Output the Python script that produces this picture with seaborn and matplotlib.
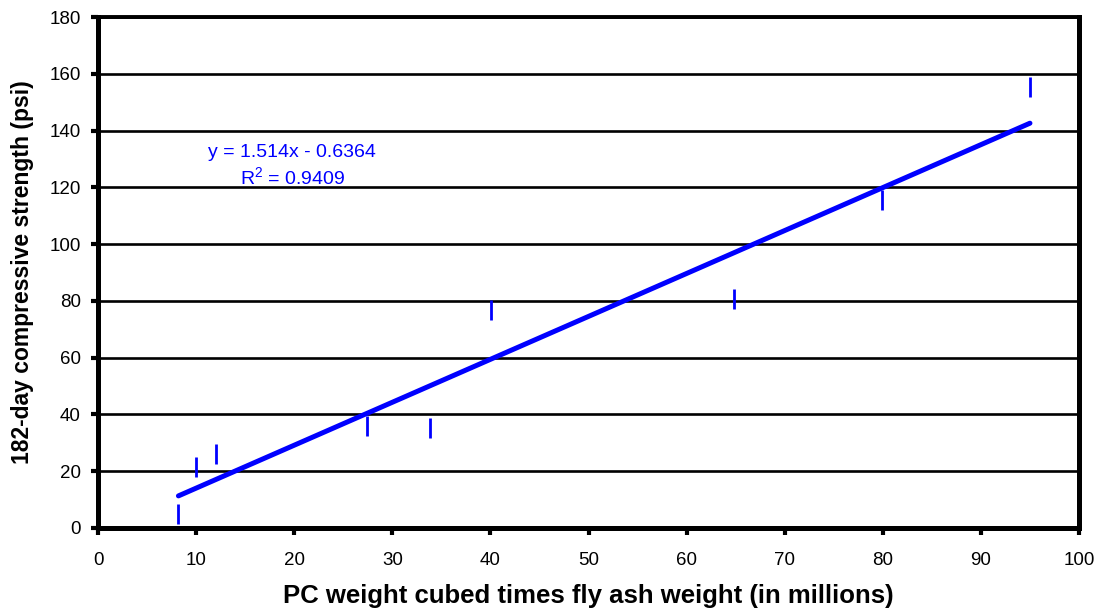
import numpy as np
import pandas as pd
import matplotlib
matplotlib.use("Agg")
import matplotlib.pyplot as plt
import seaborn as sns

# Data
x_vals = [8.2, 10.0, 12.0, 27.4, 33.8, 40.1, 64.8, 79.9, 95.0]
y_vals = [4.9, 21.4, 26.0, 35.9, 35.3, 76.9, 80.5, 115.4, 155.3]
x_ticks = list(range(0, 101, 10))
y_ticks = list(range(0, 181, 20))
eq_text = "y = 1.514x - 0.6364"
r2_text = "R$^{2}$ = 0.9409"
x_label = "PC weight cubed times fly ash weight (in millions)"
y_label = "182-day compressive strength (psi)"

df = pd.DataFrame({"x": x_vals, "y": y_vals})

sns.set_theme(style="white")
plt.rcParams["font.family"] = ["Liberation Sans", "DejaVu Sans"]
plt.rcParams["mathtext.fontset"] = "custom"
plt.rcParams["mathtext.rm"] = "Liberation Sans"
for key in ["text.color", "axes.labelcolor", "xtick.color", "ytick.color"]:
    plt.rcParams[key] = "black"

fig = plt.figure(figsize=(11.02, 6.13), dpi=100)
ax = fig.add_axes([98 / 1102, 1 - 528 / 613, (1079 - 98) / 1102, (528 - 17) / 613])

# horizontal gridlines
for yt in y_ticks[1:]:
    ax.axhline(yt, color="black", lw=1.9, zorder=1)

sns.regplot(data=df, x="x", y="y", ax=ax, ci=None, marker="|",
            scatter_kws=dict(s=210, linewidths=2.0, color="#0000FF", alpha=1, zorder=3),
            line_kws=dict(color="#0000FF", lw=3.6, solid_capstyle="round", zorder=4))

ax.set_xlim(0, 100)
ax.set_ylim(0, 180)
ax.set_xticks(x_ticks)
ax.set_yticks(y_ticks)
ax.tick_params(axis="both", which="major", direction="out", length=5, width=3,
               color="black", labelcolor="black", labelsize=13.5, left=True, bottom=True)
ax.tick_params(axis="x", pad=12)
ax.tick_params(axis="y", pad=7.5)
for side in ["left", "bottom", "right"]:
    ax.spines[side].set_visible(True)
    ax.spines[side].set_color("black")
    ax.spines[side].set_linewidth(3.6)
ax.spines["top"].set_visible(True)
ax.spines["top"].set_color("black")
ax.spines["top"].set_linewidth(2.8)

ax.set_xlabel(x_label, fontsize=18.5, fontweight="bold", labelpad=11, color="black")
ax.set_ylabel(y_label, fontsize=16.5, fontweight="bold", labelpad=11, color="black")

ax.text(19.8, 130.8, eq_text, color="#0000FF", fontsize=14, ha="center", va="baseline")
ax.text(19.8, 120.9, r2_text, color="#0000FF", fontsize=14, ha="center", va="baseline")

fig.savefig("out.png", dpi=100)
